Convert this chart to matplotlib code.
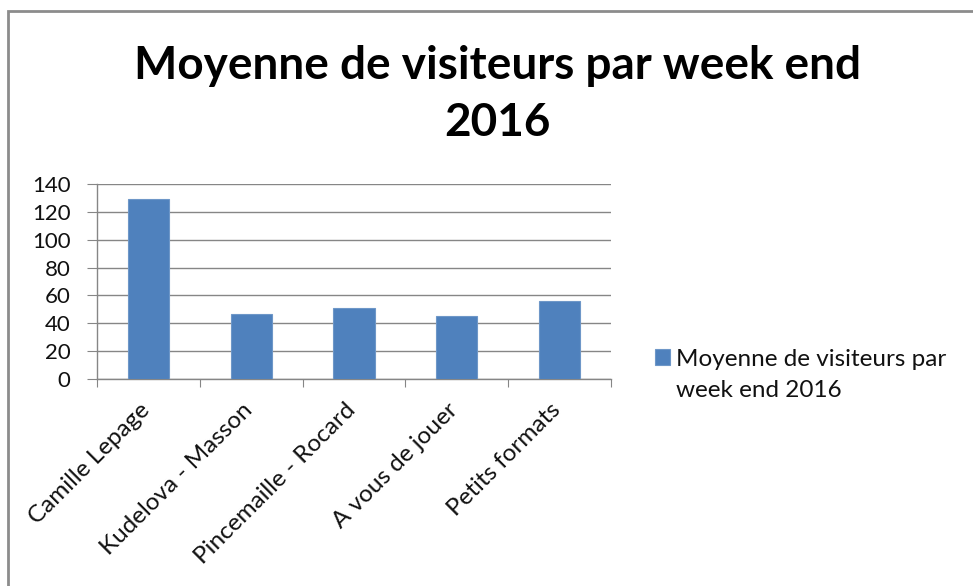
import matplotlib
matplotlib.use("Agg")
import matplotlib.pyplot as plt
import matplotlib.transforms as mtransforms
from matplotlib.patches import Rectangle

plt.rcParams['font.family'] = ['Lato', 'DejaVu Sans']

categories = ['Camille Lepage', 'Kudelova - Masson', 'Pincemaille - Rocard',
              'A vous de jouer', 'Petits formats']
visiteurs = [129, 47, 51, 45, 56]
series_name = 'Moyenne de visiteurs par\nweek end 2016'
title_lines = ['Moyenne de visiteurs par week end', '2016']
yticks = [0, 20, 40, 60, 80, 100, 120, 140]

W, H = 973, 586
fig = plt.figure(figsize=(W / 100, H / 100), dpi=100)
fig.patch.set_facecolor('white')

# outer chart frame (runs off the right and bottom edges)
fig.add_artist(Rectangle((8 / W, -0.1), 1.2, 1 - 11 / H + 0.1,
                         transform=fig.transFigure, fill=False,
                         edgecolor='#8c8c8c', linewidth=2))

ax = fig.add_axes([97 / W, 1 - 379 / H, (611 - 97) / W, (379 - 184) / H])

x = list(range(len(categories)))
ax.bar(x, visiteurs, width=0.4, color='#4f81bd', edgecolor='#6e97c8',
       linewidth=0.8, label=series_name, zorder=3)

ax.set_xlim(-0.5, len(categories) - 0.5)
ax.set_ylim(0, 140)
ax.set_yticks(yticks)
ax.yaxis.grid(True, color='#868686', linewidth=1, zorder=0)

for s in ['top', 'right']:
    ax.spines[s].set_visible(False)
for s in ['left', 'bottom']:
    ax.spines[s].set_color('#868686')
    ax.spines[s].set_linewidth(1)

ax.set_xticks([i - 0.5 for i in range(len(categories) + 1)])
ax.set_xticklabels([])
ax.set_xticks(x, minor=True)
ax.set_xticklabels(categories, minor=True, rotation=45, ha='right',
                   va='center', rotation_mode='anchor', fontsize=17.5,
                   color='#111111')
ax.tick_params(axis='x', which='minor', length=0, pad=20)
ax.tick_params(axis='x', which='major', length=6, color='#868686')
ax.tick_params(axis='y', length=7.2, color='#868686', labelsize=16, pad=12,
               labelcolor='#111111')

shift = mtransforms.ScaledTranslation(-2 / 100, 0, fig.dpi_scale_trans)
for lab in ax.get_xticklabels(minor=True):
    lab.set_transform(lab.get_transform() + shift)

fig.text(497 / W, 1 - 79 / H, title_lines[0], ha='center', va='baseline',
         fontsize=33, fontweight='bold')
fig.text(497 / W, 1 - 136 / H, title_lines[1], ha='center', va='baseline',
         fontsize=33, fontweight='bold')

leg = ax.legend(loc='upper left', bbox_to_anchor=(655 / W, 1 - 349 / H),
                bbox_transform=fig.transFigure, frameon=False, fontsize=17.5,
                handlelength=0.62, handleheight=0.62, handletextpad=0.25,
                borderaxespad=0, borderpad=0, labelspacing=0)
for col in leg._legend_handle_box.get_children():
    for row in col.get_children():
        row.align = 'top'
for t in leg.get_texts():
    t.set_linespacing(1.6)
    t.set_color('#111111')

fig.savefig('out.png', dpi=100, facecolor='white')
